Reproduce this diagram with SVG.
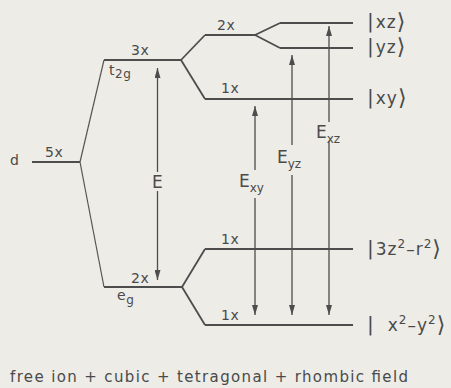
<svg xmlns="http://www.w3.org/2000/svg" width="451" height="388" viewBox="0 0 451 388">
<style>
.lv{stroke:#4d4d4d;stroke-width:2.2;fill:none;stroke-linecap:butt}
.dg{stroke:#4d4d4d;stroke-width:1.8;fill:none}
.dt{stroke:#555;stroke-width:1.2;fill:none}
.ar{stroke:#4d4d4d;stroke-width:1.3;fill:none;marker-end:url(#ah)}
text{font-family:"DejaVu Sans","Liberation Sans",sans-serif;fill:#4a4a4a}
.m{font-size:14px;letter-spacing:0.5px}
.k{font-size:17px;letter-spacing:1px}
.b{font-size:20px}
.br{font-size:22px}
.e{font-size:17px}
.s{font-size:12px}
.ks{font-size:12px;letter-spacing:1px}
</style>
<defs>
<marker id="ah" viewBox="0 0 10 6" refX="10" refY="3" markerWidth="10" markerHeight="6" markerUnits="userSpaceOnUse" orient="auto">
<path d="M0,0 L10,3 L0,6 z" fill="#4d4d4d"/>
</marker>
</defs>
<rect width="451" height="388" fill="#edece7"/>

<g id="d-level">
<line class="lv" x1="32" y1="162" x2="80" y2="162"/>
<text x="10" y="165" class="m">d</text>
<text x="45" y="157" class="m">5x</text>
</g>
<g id="t2g">
<line class="lv" x1="104" y1="60" x2="181" y2="60"/>
<text x="131" y="55" class="m">3x</text>
<text x="109" y="75" class="m">t<tspan class="s" dy="3">2g</tspan></text>
</g>
<g id="eg">
<line class="lv" x1="104" y1="287" x2="182" y2="287"/>
<text x="131" y="283" class="m">2x</text>
<text x="117" y="300" class="m">e<tspan class="s" dy="4">g</tspan></text>
</g>
<g id="tet-2x">
<line class="lv" x1="205" y1="35" x2="255" y2="35"/>
<text x="217" y="30" class="m">2x</text>
</g>
<g id="xz">
<line class="lv" x1="280" y1="23" x2="353" y2="23"/>
<text x="367" y="28"><tspan class="b">|</tspan><tspan class="k" dx="2">xz</tspan><tspan class="br" dy="1">⟩</tspan></text>
</g>
<g id="yz">
<line class="lv" x1="280" y1="48" x2="353" y2="48"/>
<text x="367" y="53"><tspan class="b">|</tspan><tspan class="k" dx="2">yz</tspan><tspan class="br" dy="1">⟩</tspan></text>
</g>
<g id="xy">
<line class="lv" x1="205" y1="99" x2="353" y2="99"/>
<text x="221" y="93" class="m">1x</text>
<text x="367" y="104"><tspan class="b">|</tspan><tspan class="k" dx="2">xy</tspan><tspan class="br" dy="1">⟩</tspan></text>
</g>
<g id="z2">
<line class="lv" x1="205" y1="249" x2="353" y2="249"/>
<text x="221" y="244" class="m">1x</text>
<text x="367" y="255"><tspan class="b">|</tspan><tspan class="k" dx="2">3z</tspan><tspan class="ks" dy="-7">2</tspan><tspan class="k" dy="7">–r</tspan><tspan class="ks" dy="-7">2</tspan><tspan class="br" dy="8">⟩</tspan></text>
</g>
<g id="x2y2">
<line class="lv" x1="205" y1="325" x2="353" y2="325"/>
<text x="221" y="320" class="m">1x</text>
<text x="367" y="331"><tspan class="b">|</tspan><tspan class="k" dx="14">x</tspan><tspan class="ks" dy="-7">2</tspan><tspan class="k" dy="7">–y</tspan><tspan class="ks" dy="-7">2</tspan><tspan class="br" dy="8">⟩</tspan></text>
</g>

<g id="connectors">
<line class="dt" x1="80" y1="162" x2="104" y2="60"/>
<line class="dt" x1="80" y1="162" x2="104" y2="287"/>
<line class="dg" x1="181" y1="60" x2="205" y2="35"/>
<line class="dg" x1="181" y1="60" x2="205" y2="99"/>
<line class="dg" x1="255" y1="35" x2="280" y2="23"/>
<line class="dg" x1="255" y1="35" x2="280" y2="48"/>
<line class="dg" x1="182" y1="287" x2="205" y2="249"/>
<line class="dg" x1="182" y1="287" x2="205" y2="325"/>

<path class="ar" d="M157.5,172 V68"/>
<path class="ar" d="M157.5,191 V280"/>
<path class="ar" d="M255,170 V106"/>
<path class="ar" d="M255,198 V315"/>
<path class="ar" d="M292,145 V55"/>
<path class="ar" d="M292,175 V315"/>
<path class="ar" d="M329,122 V26"/>
<path class="ar" d="M329,141 V315"/>
</g>

<g id="labels">
<text x="152" y="188" class="e">E</text>
<text x="239" y="187" class="e">E<tspan class="s" dy="5">xy</tspan></text>
<text x="277" y="163" class="e">E<tspan class="s" dy="5">yz</tspan></text>
<text x="316" y="138" class="e">E<tspan class="s" dy="5">xz</tspan></text>
<text x="10" y="382" class="k" style="font-size:15px;letter-spacing:0" textLength="398" lengthAdjust="spacing">free ion + cubic + tetragonal + rhombic field</text>
</g>
</svg>
